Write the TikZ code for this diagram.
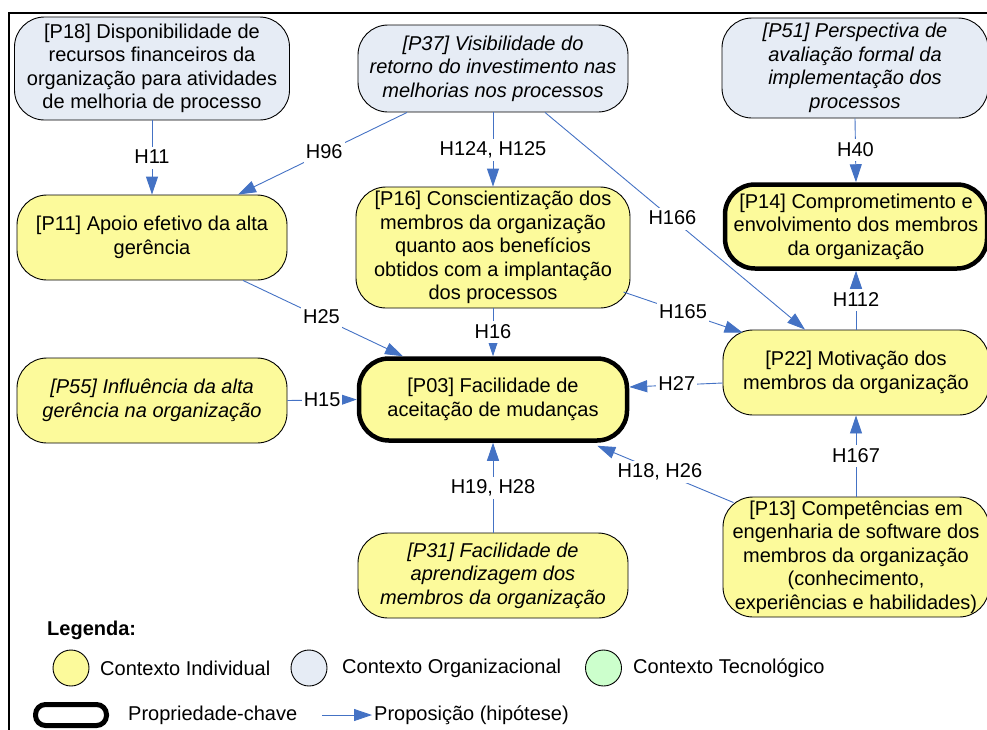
\documentclass[tikz,border=0pt]{standalone}
\usepackage{fontspec}
\setmainfont{Liberation Sans}
\usetikzlibrary{arrows.meta,calc}

\definecolor{indiv}{RGB}{252,250,155}
\definecolor{organ}{RGB}{230,236,245}
\definecolor{tecno}{RGB}{204,255,204}
\definecolor{hyp}{RGB}{68,114,196}

\begin{document}
\begin{tikzpicture}[x=1pt,y=-1pt,
  txt/.style={font=\fontsize{20}{23.5}\selectfont},
  prop/.style={rectangle, rounded corners=30pt, draw=black, line width=0.9pt,
               inner sep=0pt, align=center, txt},
  ind/.style={prop, fill=indiv},
  org/.style={prop, fill=organ},
  keyprop/.style={line width=4.5pt},
  ital/.style={font=\fontsize{20}{23.5}\selectfont\itshape},
  hypo/.style={draw=hyp, line width=0.9pt, -{Triangle[length=18pt,width=12pt]}},
  hlab/.style={fill=white, inner xsep=2pt, inner ysep=3pt, text height=14pt,
               text depth=2pt, txt},
  legtext/.style={anchor=west, inner sep=0pt, txt},
  legdot/.style={circle, draw=black, line width=0.9pt, minimum size=36pt, inner sep=0pt},
]
\useasboundingbox (0,0) rectangle (987,729);

% outer frame (only top and left sides visible)
\draw[line width=2pt] (8.5,731) -- (8.5,13) -- (990,13);

% ---- propositions ----
\node[org, minimum width=275pt, minimum height=103pt] (p18) at (152,68.5)
  {[P18] Disponibilidade de\\recursos financeiros da\\organização para atividades\\de melhoria de processo};
\node[org, ital, minimum width=270pt, minimum height=87pt] (p37) at (493,68.5)
  {[P37] Visibilidade do\\retorno do investimento nas\\melhorias nos processos};
\node[org, ital, minimum width=266pt, minimum height=100pt] (p51) at (855,68)
  {[P51] Perspectiva de\\avaliação formal da\\implementação dos\\processos};

\node[ind, minimum width=270pt, minimum height=85pt] (p11) at (152,237.5)
  {[P11] Apoio efetivo da alta\\gerência};
\node[ind, minimum width=274pt, minimum height=121pt] (p16) at (493,247.5)
  {[P16] Conscientização dos\\membros da organização\\quanto aos benefícios\\obtidos com a implantação\\dos processos};
\node[ind, keyprop, minimum width=262pt, minimum height=84pt] (p14) at (856,226.5)
  {[P14] Comprometimento e\\envolvimento dos membros\\da organização};

\node[ind, ital, minimum width=270pt, minimum height=85pt] (p55) at (152,400.5)
  {[P55] Influência da alta\\gerência na organização};
\node[ind, keyprop, minimum width=268pt, minimum height=82pt] (p03) at (493,399.5)
  {[P03] Facilidade de\\aceitação de mudanças};
\node[ind, minimum width=266pt, minimum height=85pt] (p22) at (856,372.5)
  {[P22] Motivação dos\\membros da organização};

\node[ind, ital, minimum width=270pt, minimum height=85pt] (p31) at (493,575.5)
  {[P31] Facilidade de\\aprendizagem dos\\membros da organização};
\node[ind, minimum width=266pt, minimum height=120pt] (p13) at (856,557)
  {[P13] Competências em\\engenharia de software dos\\membros da organização\\(conhecimento,\\experiências e habilidades)};

% ---- hypotheses ----
\draw[hypo] (p18.south) -- node[hlab]{H11} (p11.north);
\draw[hypo] ([xshift=-86pt]p37.south) -- node[hlab,pos=0.49]{H96} ([xshift=86pt]p11.north);
\draw[hypo] (p37.south) -- node[hlab]{H124, H125} (p16.north);
\draw[hypo] ([xshift=52pt]p37.south) -- node[hlab,pos=0.49]{H166} ([xshift=-51pt]p22.north);
\draw[hypo] (p51.south) -- node[hlab]{H40} (p14.north);
\draw[hypo] ([xshift=91pt]p11.south) -- node[hlab,pos=0.49]{H25} ([xshift=-90pt]p03.north);
\draw[hypo] (p16.south) -- node[hlab]{H16} (p03.north);
\draw[hypo] ([shift={(-7pt,-44.5pt)}]p16.east) -- node[hlab]{H165} ([shift={(20pt,-3pt)}]p22.north west);
\draw[hypo] (p55.east) -- node[hlab]{H15} (p03.west);
\draw[hypo] ([yshift=-10.5pt]p22.west) -- node[hlab,pos=0.49]{H27} ([yshift=12.5pt]p03.east);
\draw[hypo] (p22.north) -- node[hlab]{H112} (p14.south);
\draw[hypo] (p13.north) -- node[hlab]{H167} (p22.south);
\draw[hypo] ([shift={(11pt,-6pt)}]p13.north west) -- node[hlab,pos=0.54]{H18, H26} ([shift={(-32pt,-3pt)}]p03.south east);
\draw[hypo] (p31.north) -- node[hlab]{H19, H28} (p03.south);

% ---- legend ----
\node[anchor=west, inner sep=0pt, font=\fontsize{20}{23.5}\selectfont\bfseries] (leg) at (47,630) {Legenda:};
\node[legdot, fill=indiv] (dotI) at (71,668) {};
\node[legtext] (txtI) at (100,668) {Contexto Individual};
\node[legdot, fill=organ] (dotO) at (309,668) {};
\node[legtext] (txtO) at (342,668) {Contexto Organizacional};
\node[legdot, fill=tecno] (dotT) at (603.5,668) {};
\node[legtext] (txtT) at (633,668) {Contexto Tecnológico};

\node[draw=black, line width=5pt, rounded corners=10pt, minimum width=71pt,
      minimum height=21pt, inner sep=0pt] (keybox) at (71,715) {};
\node[legtext] (txtK) at (128,715) {Propriedade-chave};
\coordinate (arrA) at (322,715);
\coordinate (arrB) at (372,715);
\draw[hypo] (arrA) -- (arrB);
\node[legtext] (txtH) at (374,715) {Proposição (hipótese)};
\end{tikzpicture}
\end{document}
